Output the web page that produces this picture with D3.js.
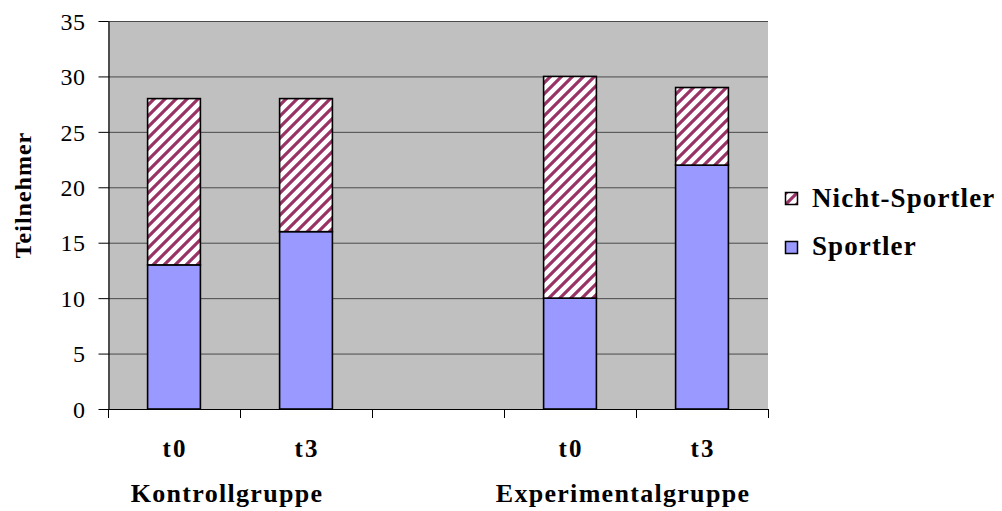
<!DOCTYPE html>
<html>
<head>
<meta charset="utf-8">
<script src="https://cdn.jsdelivr.net/npm/d3@7"></script>
<style>
  html, body { margin: 0; padding: 0; background: #fff; }
  svg { display: block; }
  text { font-family: "Liberation Serif", "Times New Roman", serif; fill: #000; }
</style>
</head>
<body>
<svg id="chart" width="1002" height="511"></svg>
<script>
// Slots along the x axis (the empty one separates the two groups)
const slots = ["K-t0", "K-t3", "gap", "E-t0", "E-t3"];
const slotLabels = ["t0", "t3", "", "t0", "t3"];
const groups = [
  { name: "Kontrollgruppe", slots: ["K-t0", "K-t3"] },
  { name: "Experimentalgruppe", slots: ["E-t0", "E-t3"] }
];
// Participants per slot
const sportler = [13, 16, null, 10, 22];
const nichtSportler = [15, 12, null, 20, 7];
const yTicks = [0, 5, 10, 15, 20, 25, 30, 35];
const seriesNames = ["Nicht-Sportler", "Sportler"];

const svg = d3.select("#chart");
const plot = { left: 108, right: 768, top: 21, bottom: 409 };

const x = d3.scaleBand().domain(slots).range([plot.left, plot.right]).padding(0);
const y = d3.scaleLinear().domain([0, 35]).range([plot.bottom, plot.top]);

// Hatch for Nicht-Sportler
const P = 11;
const defs = svg.append("defs");
const pat = defs.append("pattern")
  .attr("id", "hatch")
  .attr("patternUnits", "userSpaceOnUse")
  .attr("width", P).attr("height", P);
pat.append("rect").attr("width", P).attr("height", P).attr("fill", "#fff");
pat.append("path")
  .attr("d", `M-3,3 L3,-3 M0,${P} L${P},0 M${P - 3},${P + 3} L${P + 3},${P - 3}`)
  .attr("stroke", "#993366").attr("stroke-width", 3.2);

// Plot background
svg.append("rect")
  .attr("x", plot.left).attr("y", plot.top)
  .attr("width", plot.right - plot.left).attr("height", plot.bottom - plot.top)
  .attr("fill", "#c0c0c0");

// Horizontal gridlines
svg.append("g").selectAll("line")
  .data(yTicks.filter(d => d > 0))
  .join("line")
  .attr("x1", plot.left).attr("x2", plot.right)
  .attr("y1", d => y(d) + 0.5).attr("y2", d => y(d) + 0.5)
  .attr("stroke", "#4a4a4a").attr("stroke-width", 1);

// Y axis
const yAxis = svg.append("g")
  .attr("transform", `translate(${plot.left + 0.5},0)`)
  .call(d3.axisLeft(y).tickValues(yTicks).tickSize(10).tickPadding(13).tickSizeOuter(0));
yAxis.select(".domain").attr("stroke", "#000").attr("stroke-width", 1.2);
yAxis.selectAll(".tick line").attr("stroke", "#000").attr("stroke-width", 1);
yAxis.selectAll(".tick text")
  .style("font-family", "'Liberation Serif', serif")
  .style("font-size", "24px").style("letter-spacing", "0.5px")
  .attr("fill", "#000").attr("dy", "0.34em");

// Stacked bars
const barW = x.bandwidth() * 0.4;
const rows = slots.map((s, i) => ({ slot: s, sp: sportler[i], ns: nichtSportler[i] }))
  .filter(d => d.sp != null);
const bars = svg.append("g");
bars.selectAll("rect.sp").data(rows).join("rect")
  .attr("class", "sp")
  .attr("x", d => x(d.slot) + (x.bandwidth() - barW) / 2)
  .attr("width", barW)
  .attr("y", d => y(d.sp))
  .attr("height", d => y(0) - y(d.sp))
  .attr("fill", "#9999ff").attr("stroke", "#000").attr("stroke-width", 1.6);
bars.selectAll("rect.ns").data(rows).join("rect")
  .attr("class", "ns")
  .attr("x", d => x(d.slot) + (x.bandwidth() - barW) / 2)
  .attr("width", barW)
  .attr("y", d => y(d.sp + d.ns))
  .attr("height", d => y(d.sp) - y(d.sp + d.ns))
  .attr("fill", "url(#hatch)").attr("stroke", "#000").attr("stroke-width", 1.6);

// X axis with ticks at slot boundaries
const bounds = slots.map(s => x(s)).concat([plot.right]);
svg.append("line")
  .attr("x1", plot.left).attr("x2", plot.right)
  .attr("y1", plot.bottom + 0.5).attr("y2", plot.bottom + 0.5)
  .attr("stroke", "#000").attr("stroke-width", 1.2);
svg.append("g").selectAll("line").data(bounds).join("line")
  .attr("x1", d => d + 0.5).attr("x2", d => d + 0.5)
  .attr("y1", plot.bottom).attr("y2", plot.bottom + 9)
  .attr("stroke", "#000").attr("stroke-width", 1);

// Slot labels
svg.append("g").selectAll("text").data(slots.map((s, i) => ({ s, l: slotLabels[i] })).filter(d => d.l))
  .join("text")
  .attr("x", d => x(d.s) + x.bandwidth() / 2 + 1)
  .attr("y", 457)
  .attr("text-anchor", "middle")
  .style("font-size", "25px").style("font-weight", "bold").style("letter-spacing", "2px")
  .text(d => d.l);

// Group labels
svg.append("g").selectAll("text").data(groups).join("text")
  .attr("x", d => (x(d.slots[0]) + x(d.slots[1]) + x.bandwidth()) / 2 - 13)
  .attr("y", 502)
  .attr("text-anchor", "middle")
  .style("font-size", "26px").style("font-weight", "bold").style("letter-spacing", "1.3px")
  .text(d => d.name);

// Y axis title
svg.append("text")
  .attr("transform", "translate(31,195) rotate(-90)")
  .attr("text-anchor", "middle")
  .style("font-size", "24px").style("font-weight", "bold").style("letter-spacing", "1px")
  .text("Teilnehmer");

// Legend
const legend = svg.append("g");
const legendRows = seriesNames.map((n, i) => ({ n, i }));
legend.selectAll("rect").data(legendRows).join("rect")
  .attr("x", 785.5).attr("y", d => 192.5 + d.i * 49)
  .attr("width", 12).attr("height", 12)
  .attr("fill", d => d.i === 0 ? "url(#hatch)" : "#9999ff")
  .attr("stroke", "#000").attr("stroke-width", 1.5);
legend.selectAll("text").data(legendRows).join("text")
  .attr("x", 812).attr("y", d => 207 + d.i * 48)
  .style("font-size", "27px").style("font-weight", "bold").style("letter-spacing", "1.1px")
  .text(d => d.n);
</script>
</body>
</html>
